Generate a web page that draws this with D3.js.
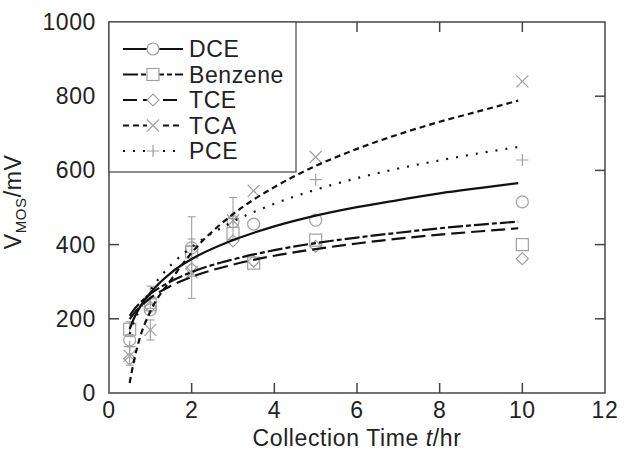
<!DOCTYPE html>
<html>
<head>
<meta charset="utf-8">
<script src="https://cdn.jsdelivr.net/npm/d3@7"></script>
<style>
  body { margin: 0; background: #fff; }
  text { font-family: "Liberation Sans", Arial, sans-serif; letter-spacing: 0.6px; }
</style>
</head>
<body>
<svg id="chart" width="626" height="456"></svg>
<script>
// measured points
const sampleTimes = [0.5, 1, 2, 3, 3.5, 5, 10];
const dceValues = [143, 224, 391, 462, 455, 466, 515];
const benzeneValues = [172, 238, 380, 430, 350, 412, 400];
const tceValues = [92, 232, 335, 410, 355, 395, 362];
const tcaValues = [100, 170, 325, 465, 545, 636, 840];
const pceValues = [125, 258, 395, 470, null, 575, 628];

// error bar half-widths (0 = none)
const dceErr = [0, 0, 0, 0, 0, 0, 0];
const benzeneErr = [20, 0, 0, 0, 0, 0, 0];
const tceErr = [0, 0, 80, 0, 0, 0, 0];
const tcaErr = [25, 27, 0, 0, 0, 0, 0];
const pceErr = [0, 30, 80, 57, 0, 0, 0];

// fitted curves
const fitTimes = [0.5, 0.6, 0.75, 1, 1.5, 2, 3, 4, 5, 6, 7, 8, 9, 9.9];
const dceFit = [172, 200, 232, 270, 324, 361, 412, 449, 478, 501, 520, 538, 553, 566];
const benzeneFit = [208, 224, 243, 267, 301, 326, 360, 385, 404, 419, 432, 444, 454, 462];
const tceFit = [199, 214, 232, 256, 289, 313, 346, 370, 388, 403, 416, 427, 436, 444];
const tcaFit = [27, 85, 150, 220, 305, 378, 482, 555, 612, 658, 697, 731, 761, 788];
const pceFit = [159, 190, 227, 276, 345, 393, 462, 510, 548, 579, 605, 627, 647, 663];

const xTicks = [0, 2, 4, 6, 8, 10, 12];
const yTicks = [0, 200, 400, 600, 800, 1000];

const series = [
  { name: 'DCE', values: dceValues, err: dceErr, fit: dceFit, dash: null, marker: 'circle' },
  { name: 'Benzene', values: benzeneValues, err: benzeneErr, fit: benzeneFit, dash: '15,3,5,3', marker: 'square' },
  { name: 'TCE', values: tceValues, err: tceErr, fit: tceFit, dash: '14,6', marker: 'diamond' },
  { name: 'TCA', values: tcaValues, err: tcaErr, fit: tcaFit, dash: '6,4', marker: 'cross' },
  { name: 'PCE', values: pceValues, err: pceErr, fit: pceFit, dash: '2,8', marker: 'plus' }
];

const margin = { top: 22, right: 21, bottom: 63, left: 109 };
const width = 626 - margin.left - margin.right;
const height = 456 - margin.top - margin.bottom;

const svg = d3.select('#chart')
  .append('g')
  .attr('transform', `translate(${margin.left},${margin.top})`);

const x = d3.scaleLinear().domain([0, 12]).range([0, width]);
const y = d3.scaleLinear().domain([0, 1000]).range([height, 0]);

const markerColor = '#a0a0a0';
const axisColor = '#444';
const fontSize = '23px';

function drawMarker(g, type)
{
  const s = 6;
  const m = g.append('g').attr('fill', 'none').attr('stroke', markerColor).attr('stroke-width', 1.2);
  if (type === 'circle') m.append('circle').attr('r', s);
  else if (type === 'square') m.append('rect').attr('x', -s).attr('y', -s).attr('width', 2 * s).attr('height', 2 * s);
  else if (type === 'diamond') m.append('path').attr('d', `M0,${-s}L${s},0L0,${s}L${-s},0Z`);
  else if (type === 'cross') m.append('path').attr('d', `M${-s},${-s}L${s},${s}M${-s},${s}L${s},${-s}`);
  else if (type === 'plus') m.append('path').attr('d', `M${-s},0L${s},0M0,${-s}L0,${s}`);
}

// error bars
series.forEach(s =>
{
  s.err.forEach((e, i) =>
  {
    if (!e || s.values[i] == null) return;
    const cx = x(sampleTimes[i]);
    const g = svg.append('g').attr('stroke', markerColor).attr('stroke-width', 1.1);
    g.append('line').attr('x1', cx).attr('x2', cx).attr('y1', y(s.values[i] - e)).attr('y2', y(s.values[i] + e));
    g.append('line').attr('x1', cx - 4).attr('x2', cx + 4).attr('y1', y(s.values[i] - e)).attr('y2', y(s.values[i] - e));
    g.append('line').attr('x1', cx - 4).attr('x2', cx + 4).attr('y1', y(s.values[i] + e)).attr('y2', y(s.values[i] + e));
  });
});

// markers
series.forEach(s =>
{
  s.values.forEach((v, i) =>
  {
    if (v == null) return;
    const g = svg.append('g').attr('transform', `translate(${x(sampleTimes[i])},${y(v)})`);
    drawMarker(g, s.marker);
  });
});

// fitted curves
const line = d3.line()
  .x((d, i) => x(fitTimes[i]))
  .y(d => y(d))
  .curve(d3.curveMonotoneX);

series.forEach(s =>
{
  svg.append('path')
    .attr('d', line(s.fit))
    .attr('fill', 'none')
    .attr('stroke', '#111')
    .attr('stroke-width', 2.2)
    .attr('stroke-dasharray', s.dash);
});

// frame and inward ticks
svg.append('rect')
  .attr('width', width).attr('height', height)
  .attr('fill', 'none').attr('stroke', axisColor).attr('stroke-width', 1.5);

const tickLen = 10;
xTicks.slice(1, -1).forEach(t =>
{
  svg.append('line').attr('x1', x(t)).attr('x2', x(t)).attr('y1', height).attr('y2', height - tickLen).attr('stroke', axisColor).attr('stroke-width', 1.5);
  svg.append('line').attr('x1', x(t)).attr('x2', x(t)).attr('y1', 0).attr('y2', tickLen).attr('stroke', axisColor).attr('stroke-width', 1.5);
});
yTicks.slice(1, -1).forEach(t =>
{
  svg.append('line').attr('x1', 0).attr('x2', tickLen).attr('y1', y(t)).attr('y2', y(t)).attr('stroke', axisColor).attr('stroke-width', 1.5);
  svg.append('line').attr('x1', width).attr('x2', width - tickLen).attr('y1', y(t)).attr('y2', y(t)).attr('stroke', axisColor).attr('stroke-width', 1.5);
});

// tick labels
svg.selectAll('.xlab').data(xTicks).enter().append('text')
  .attr('x', d => x(d)).attr('y', height + 25)
  .attr('text-anchor', 'middle')
  .style('font-size', fontSize).attr('fill', '#222')
  .text(d => d);

svg.selectAll('.ylab').data(yTicks).enter().append('text')
  .attr('x', -13).attr('y', d => y(d)).attr('dy', '0.35em')
  .attr('text-anchor', 'end')
  .style('font-size', fontSize).attr('fill', '#222')
  .text(d => d);

// axis titles
const xt = svg.append('text')
  .attr('x', x(6)).attr('y', height + 53)
  .attr('text-anchor', 'middle')
  .style('font-size', fontSize).attr('fill', '#222');
xt.append('tspan').text('Collection Time ');
xt.append('tspan').style('font-style', 'italic').text('t');
xt.append('tspan').text('/hr');

const yt = svg.append('text')
  .attr('transform', `translate(${-88},${y(515)}) rotate(-90)`)
  .attr('text-anchor', 'middle')
  .style('font-size', fontSize).attr('fill', '#222');
yt.append('tspan').text('V');
yt.append('tspan').attr('dy', 5).style('font-size', '15px').text('MOS');
yt.append('tspan').attr('dy', -5).text('/mV');

// legend
const legend = svg.append('g');
legend.append('rect')
  .attr('x', 0).attr('y', 0).attr('width', 187).attr('height', 150)
  .attr('fill', '#fff').attr('stroke', axisColor).attr('stroke-width', 1.2);

series.forEach((s, i) =>
{
  const ly = 27 + i * 25.5;
  legend.append('line')
    .attr('x1', 14).attr('x2', 74).attr('y1', ly).attr('y2', ly)
    .attr('stroke', '#111').attr('stroke-width', 2)
    .attr('stroke-dasharray', s.dash);
  const g = legend.append('g').attr('transform', `translate(44,${ly})`);
  g.append('rect').attr('x', -6).attr('y', -6).attr('width', 12).attr('height', 12).attr('fill', '#fff').attr('stroke', 'none');
  drawMarker(g, s.marker);
  legend.append('text')
    .attr('x', 80).attr('y', ly).attr('dy', '0.36em')
    .style('font-size', fontSize).attr('fill', '#222')
    .text(s.name);
});
</script>
</body>
</html>
